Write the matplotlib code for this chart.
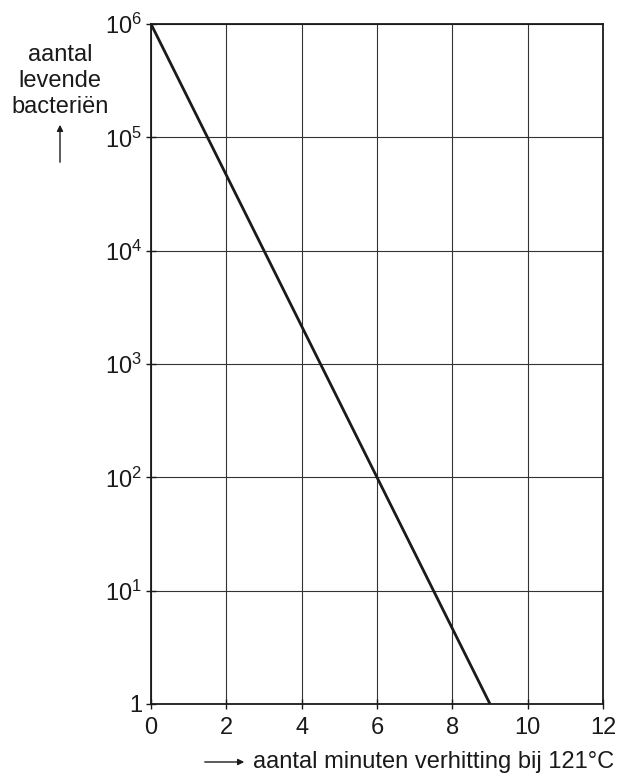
import matplotlib
matplotlib.use("Agg")
import matplotlib.pyplot as plt
from matplotlib.ticker import FixedLocator, FixedFormatter

plt.rcParams['font.family'] = ['Liberation Sans', 'DejaVu Sans']

# data
minutes = [0, 9]
bacteria = [1e6, 1]
x_ticks = [0, 2, 4, 6, 8, 10, 12]
y_ticks = [1, 1e1, 1e2, 1e3, 1e4, 1e5, 1e6]
y_labels = ['1', r'$\mathregular{10^{1}}$', r'$\mathregular{10^{2}}$', r'$\mathregular{10^{3}}$',
            r'$\mathregular{10^{4}}$', r'$\mathregular{10^{5}}$', r'$\mathregular{10^{6}}$']

W, H = 623, 778
FS = 17
fig = plt.figure(figsize=(W/100, H/100), dpi=100)
ax = fig.add_axes([151/W, 1-704/H, (603-151)/W, (704-24)/H])
ax.set_yscale('log')
ax.set_xlim(0, 12)
ax.set_ylim(1, 1e6)
ax.plot(minutes, bacteria, color='#1a1a1a', lw=2.0, solid_capstyle='butt', zorder=3)

ax.xaxis.set_major_locator(FixedLocator(x_ticks))
ax.yaxis.set_major_locator(FixedLocator(y_ticks))
ax.yaxis.set_major_formatter(FixedFormatter(y_labels))
ax.yaxis.set_minor_locator(FixedLocator([]))
ax.set_xticklabels([str(v) for v in x_ticks])
ax.grid(True, which='major', color='#333333', lw=0.8)
for s in ax.spines.values():
    s.set_color('#1a1a1a')
    s.set_linewidth(1.3)
ax.tick_params(axis='both', direction='inout', length=7, width=1.0, labelsize=FS,
               colors='#1a1a1a')
ax.tick_params(axis='y', pad=3)
ax.tick_params(axis='x', pad=6)

# y label with arrow
fig.text(60/W, 1-81/H, 'aantal\nlevende\nbacteriën', ha='center', va='center',
         fontsize=FS, color='#1a1a1a', linespacing=1.25)
fig.add_artist(matplotlib.patches.FancyArrowPatch((60/W, 1-165/H), (60/W, 1-122/H),
               transform=fig.transFigure, arrowstyle='-|>', mutation_scale=9,
               color='#1a1a1a', lw=1.0))
# x label with arrow
fig.add_artist(matplotlib.patches.FancyArrowPatch((202/W, 1-762/H), (247/W, 1-762/H),
               transform=fig.transFigure, arrowstyle='-|>', mutation_scale=9,
               color='#1a1a1a', lw=1.0))
fig.text(253/W, 1-762/H, 'aantal minuten verhitting bij 121°C', ha='left', va='center',
         fontsize=FS, color='#1a1a1a')

fig.savefig('out.png', dpi=100)
